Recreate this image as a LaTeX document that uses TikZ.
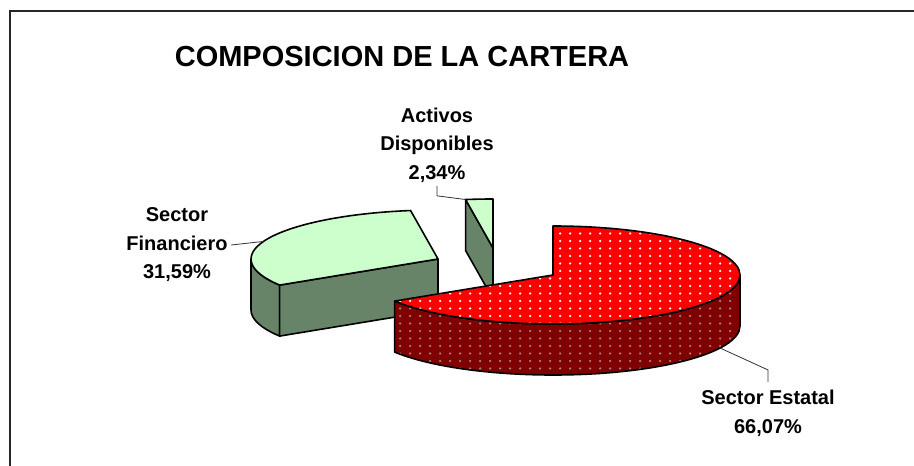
\documentclass[tikz,border=0pt]{standalone}
\usepackage{fontspec}
\setmainfont{Liberation Sans}
\usetikzlibrary{patterns}

\definecolor{palegreen}{RGB}{204,255,204}
\definecolor{darkgreen}{RGB}{104,132,104}
\definecolor{darkmaroon}{RGB}{128,0,0}
\definecolor{dotgray}{RGB}{165,130,130}

% white dots, 10pt apart across and 7.5pt apart down
\pgfdeclarepatternformonly{piedots}{\pgfqpoint{-1.5pt}{-1.5pt}}{\pgfqpoint{1.5pt}{1.5pt}}{\pgfqpoint{10pt}{7.5pt}}{%
  \pgfpathcircle{\pgfqpoint{0pt}{0pt}}{1.25pt}\pgfusepath{fill}}

\begin{document}
\begin{tikzpicture}[x=1pt, y=1pt,
    slice/.style={draw=black, line width=1.6pt, line join=round},
    greentop/.style={slice, fill=palegreen},
    greenside/.style={slice, fill=darkgreen},
    redtop/.style={slice, preaction={fill=red}, pattern=piedots, pattern color=white},
    redside/.style={slice, preaction={fill=darkmaroon}, pattern=piedots, pattern color=dotgray},
    lbl/.style={font=\fontsize{20}{28.5}\selectfont\bfseries, align=center},
    leader/.style={draw=black!80, line width=0.8pt}]
\useasboundingbox (0,0) rectangle (914,-466);
\draw [line width=1.5pt, black!85] (10,-466) -- (10,-11) -- (914,-11);

\node [font=\fontsize{29}{34}\selectfont\bfseries, anchor=base] (titulo) at (402,-66) {COMPOSICION DE LA CARTERA};

% slice centres
\coordinate (A) at (493,-248);
\coordinate (G) at (438,-259);
\coordinate (R) at (553,-275);

% Activos Disponibles
\draw [greenside] (A) -- ++(98.43:187pt and 49pt) coordinate (ad-tip) -- ++(0,-51) -- ([yshift=-51pt]A) -- cycle;
\draw [greentop] (A) -- ++(90:187pt and 49pt) arc [start angle=90, end angle=98.43, x radius=187pt, y radius=49pt] -- cycle;

% Sector Financiero
\draw [greenside] (G) ++(180:187pt and 49pt) arc [start angle=180, end angle=212.15, x radius=187pt, y radius=49pt] -- ++(0,-51) arc [start angle=212.15, end angle=180, x radius=187pt, y radius=49pt] -- cycle;
\draw [greenside] (G) -- ++(212.15:187pt and 49pt) -- ++(0,-51) -- ([yshift=-51pt]G) -- cycle;
\draw [greentop] (G) -- ++(98.43:187pt and 49pt) arc [start angle=98.43, end angle=212.15, x radius=187pt, y radius=49pt] -- cycle;

% Sector Estatal
\draw [redside] (R) ++(-147.85:187pt and 49pt) arc [start angle=-147.85, end angle=0, x radius=187pt, y radius=49pt] -- ++(0,-51) arc [start angle=0, end angle=-147.85, x radius=187pt, y radius=49pt] -- cycle;
\draw [redtop] (R) -- ++(90:187pt and 49pt) arc [start angle=90, end angle=-147.85, x radius=187pt, y radius=49pt] -- cycle;

% labels
\node [lbl] (activos) at (437,-145) {Activos\\Disponibles\\2,34\%};
\node [lbl] (financiero) at (177,-245) {Sector\\Financiero\\31,59\%};
\node [lbl] (estatal) at (768,-413.5) {Sector Estatal\\66,07\%};

\path (G) ++(159:187pt and 49pt) coordinate (fin-tip);
\path (R) ++(0,-51) ++(-26.7:187pt and 49pt) coordinate (est-tip);
\draw [leader] (activos.south) -- ++(0,-10) -- (ad-tip);
\draw [leader] (financiero.east) -- (fin-tip);
\draw [leader] ([yshift=5pt]estatal.north) -- ++(0,12) -- (est-tip);
\end{tikzpicture}
\end{document}
